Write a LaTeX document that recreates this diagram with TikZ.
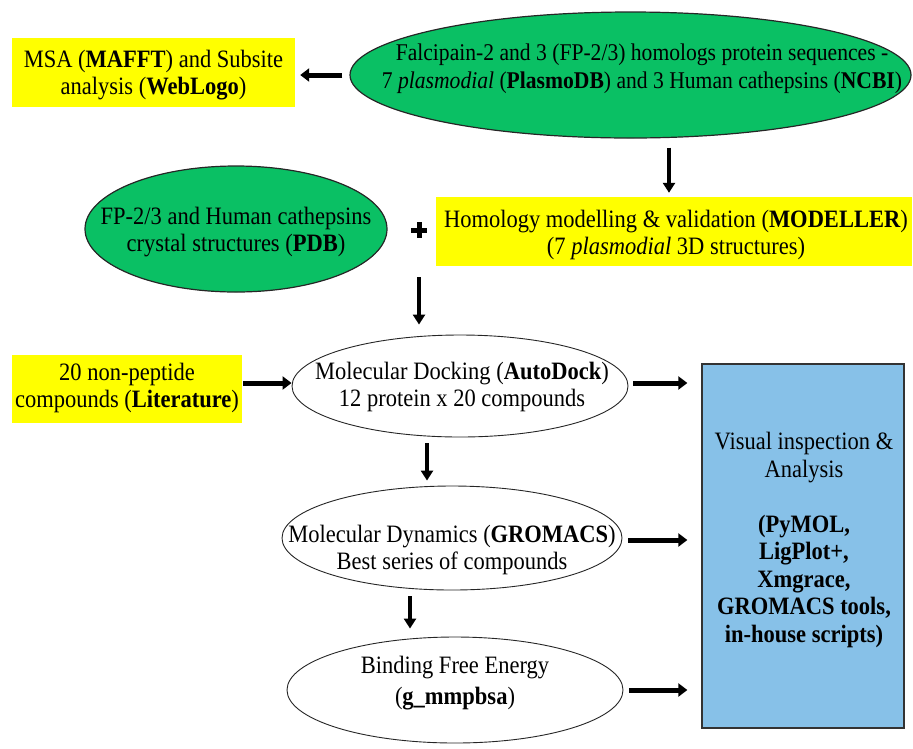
\documentclass[tikz,border=0pt]{standalone}
\usepackage{fontspec}
\setmainfont{Liberation Serif}[FakeStretch=0.9]
\usetikzlibrary{shapes.geometric,arrows.meta}
\definecolor{grn}{RGB}{10,192,100}
\definecolor{ylw}{RGB}{255,255,0}
\definecolor{blu}{RGB}{135,193,232}
\begin{document}
\begin{tikzpicture}[x=1pt,y=-1pt,
  font=\fontsize{25}{27.5}\selectfont,
  ybox/.style={fill=ylw, inner sep=0pt, align=center},
  gell/.style={ellipse, draw=black!85, fill=grn, line width=1.2pt, inner sep=0pt},
  well/.style={ellipse, draw=black!85, fill=white, line width=0.9pt, inner sep=0pt},
  txt/.style={align=center, inner sep=0pt},
  harr/.style={line width=5pt, -{Triangle[length=9pt,width=13pt]}},
  varr/.style={line width=3.5pt, -{Triangle[length=10pt,width=12pt]}},
]
\useasboundingbox (0,0) rectangle (913,748);

% boxes
\node[ybox, minimum width=283pt, minimum height=69pt] (msa) at (153.5,72.5) {};
\node[txt] (msat) at (153.5,75) {MSA (\textbf{MAFFT}) and Subsite\\analysis (\textbf{WebLogo})};

\node[gell, minimum width=561pt, minimum height=126pt] (top) at (630.5,75) {};
\node[txt, font=\fontsize{24}{28}\selectfont] (topt) at (642,69) {Falcipain-2 and 3 (FP-2/3) homologs protein sequences -\\7 \textit{plasmodial} (\textbf{PlasmoDB}) and 3 Human cathepsins (\textbf{NCBI})};

\node[gell, minimum width=302pt, minimum height=126pt] (pdb) at (236,229) {};
\node[txt] (pdbt) at (236,232) {FP-2/3 and Human cathepsins\\crystal structures (\textbf{PDB})};

\node[ybox, minimum width=476pt, minimum height=69pt] (mod) at (674,231.5) {};
\node[txt] (modt) at (676,235) {Homology modelling \& validation (\textbf{MODELLER})\\(7 \textit{plasmodial} 3D structures)};

\node[inner sep=0pt] (plus) at (419,230) {};
\fill (plus.center) ++(-8,-2.5) rectangle ++(16,5);
\fill (plus.center) ++(-2.5,-8) rectangle ++(5,16);

\node[ybox, minimum width=230pt, minimum height=68pt] (lit) at (127,389) {};
\node[txt] (litt) at (127,388) {20 non-peptide\\compounds (\textbf{Literature})};

\node[well, minimum width=336pt, minimum height=102pt] (dock) at (460,386) {};
\node[txt] (dockt) at (462,387) {Molecular Docking (\textbf{AutoDock})\\12 protein x 20 compounds};

\node[well, minimum width=340pt, minimum height=104pt] (dyn) at (452,538) {};
\node[txt] (dynt) at (452,550) {Molecular Dynamics (\textbf{GROMACS})\\Best series of compounds};

\node[well, minimum width=336pt, minimum height=106pt] (bind) at (455,690) {};
\node[txt] (bindt) at (455,683) {Binding Free Energy\\[4pt](\textbf{g\_mmpbsa})};

\node[draw=black!80, fill=blu, line width=1.3pt, minimum width=202pt, minimum height=364pt, inner sep=0pt] (vis) at (803,546) {};
\node[txt] (vist) at (804,540) {Visual inspection \&\\Analysis\\ \\\textbf{(PyMOL,}\\\textbf{LigPlot+,}\\\textbf{Xmgrace,}\\\textbf{GROMACS tools,}\\\textbf{in-house scripts)}};

% connectors
\draw[harr, shorten <=7pt, shorten >=5pt] (top.west) -- (top.west -| msa.east);
\draw[varr, shorten <=9pt, shorten >=4pt] (top.south -| 669,0) -- (mod.north -| 669,0);
\draw[varr, shorten <=47pt, shorten >=10pt] (plus.center) -- (plus.center |- dock.north);
\draw[harr, shorten <=1pt, shorten >=0pt] (lit.east |- 0,383) -- (dock.west |- 0,383);
\draw[harr, shorten <=5pt, shorten >=14pt] (dock.east |- 0,383) -- (vis.west |- 0,383);
\draw[varr, shorten <=6pt, shorten >=5pt] (dock.south -| 427,0) -- (dyn.north -| 427,0);
\draw[harr, shorten <=6pt, shorten >=14pt] (dyn.east |- 0,540) -- (vis.west |- 0,540);
\draw[varr, shorten <=6pt, shorten >=8pt] (dyn.south -| 410,0) -- (bind.north -| 410,0);
\draw[harr, shorten <=6pt, shorten >=14pt] (bind.east |- 0,690) -- (vis.west |- 0,690);
\end{tikzpicture}
\end{document}
